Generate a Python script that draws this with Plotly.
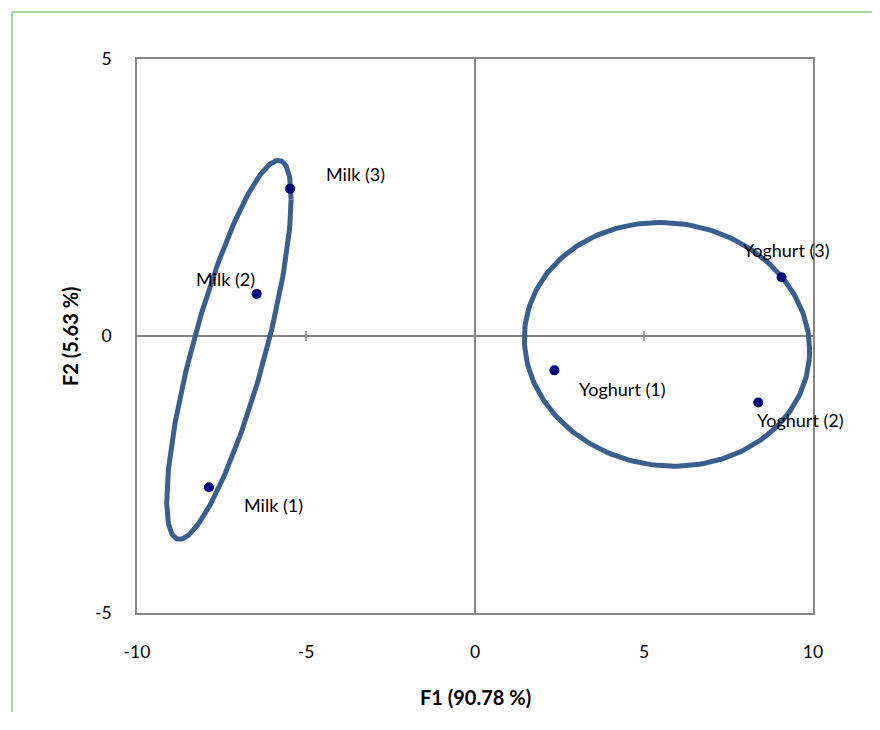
#!/usr/bin/env python3
"""PCA score plot of milk and yoghurt samples with group ellipses."""
import numpy as np
import plotly.graph_objects as go

# sample scores on the first two factors
labels = ["Milk (1)", "Milk (2)", "Milk (3)", "Yoghurt (1)", "Yoghurt (2)", "Yoghurt (3)"]
f1 = [-7.87, -6.46, -5.47, 2.35, 8.38, 9.07]
f2 = [-2.73, 0.76, 2.66, -0.62, -1.20, 1.06]

# group ellipses: centre, half-width (F1), half-height (F2), correlation
ell_cx = [-7.28, 5.68]
ell_cy = [-0.25, -0.15]
ell_hw = [1.84, 4.22]
ell_hh = [3.42, 2.2]
ell_r = [0.796, -0.049]

x_ticks = [-10, -5, 0, 5, 10]
x_tick_text = ["-10", "-5", "0", "5", "10"]
y_ticks = [-5, 0, 5]
y_tick_text = ["-5", "0", "5"]

FONT = "Lato, 'Open Sans', Arial, sans-serif"
GRAY = "#868686"
ELL = "#3A5F8F"
FRAME = "#A3D9A5"

# label offsets in pixels (x, y)
label_shift = {
    "Milk (1)": (65, -18),
    "Milk (2)": (-31, 15),
    "Milk (3)": (65, 15),
    "Yoghurt (1)": (68, -19),
    "Yoghurt (2)": (42, -18),
    "Yoghurt (3)": (5, 27),
}

fig = go.Figure()

t = np.linspace(0, 2 * np.pi, 240)
for cx, cy, hw, hh, r in zip(ell_cx, ell_cy, ell_hw, ell_hh, ell_r):
    ex = cx + hw * np.cos(t)
    ey = cy + hh * (r * np.cos(t) + np.sqrt(1 - r * r) * np.sin(t))
    fig.add_trace(go.Scatter(x=ex, y=ey, mode="lines",
                             line=dict(color=ELL, width=5),
                             hoverinfo="skip", showlegend=False))

fig.add_trace(go.Scatter(x=f1, y=f2, mode="markers", text=labels,
                         marker=dict(color="#000080", size=10),
                         hovertemplate="%{text}<br>F1: %{x}<br>F2: %{y}<extra></extra>",
                         showlegend=False))

for name, x, y in zip(labels, f1, f2):
    dx, dy = label_shift[name]
    fig.add_annotation(x=x, y=y, text=name, showarrow=False, xshift=dx, yshift=dy,
                       font=dict(family=FONT, size=18, color="#000000"))

# small ticks on the horizontal zero axis
for xv in x_ticks:
    if xv in (-10, 0, 10):
        continue
    fig.add_shape(type="line", xref="x", yref="y", x0=xv, x1=xv,
                  ysizemode="pixel", yanchor=0, y0=-5, y1=5,
                  line=dict(color=GRAY, width=1.5))

# outer chart frame (top and left edges visible)
fig.add_shape(type="line", xref="paper", yref="paper",
              x0=-0.1849, x1=1.2, y0=1.0848, y1=1.0848,
              line=dict(color=FRAME, width=2), layer="below")
fig.add_shape(type="line", xref="paper", yref="paper",
              x0=-0.1849, x1=-0.1849, y0=-0.3, y1=1.0848,
              line=dict(color=FRAME, width=2), layer="below")

fig.add_annotation(xref="paper", yref="paper", x=0.5, y=-0.1516, text="<b>F1 (90.78 %)</b>",
                   showarrow=False, yanchor="middle",
                   font=dict(family=FONT, size=20, color="#000000"))
fig.add_annotation(xref="paper", yref="paper", x=-0.0991, y=0.5, text="<b>F2 (5.63 %)</b>",
                   showarrow=False, textangle=-90, xanchor="center", yanchor="middle",
                   font=dict(family=FONT, size=20, color="#000000"))

fig.update_layout(
    width=864,
    height=704,
    margin=dict(l=129, r=59, t=51, b=99),
    plot_bgcolor="#FFFFFF",
    paper_bgcolor="#FFFFFF",
    font=dict(family=FONT, size=17.5, color="#000000"),
    showlegend=False,
)
fig.update_xaxes(range=[-10, 10], tickvals=x_ticks, ticktext=x_tick_text, showgrid=False,
                 zeroline=True, zerolinecolor=GRAY, zerolinewidth=1.5,
                 showline=True, linecolor=GRAY, linewidth=1.5, mirror=True,
                 ticks="outside", ticklen=22, tickcolor="rgba(0,0,0,0)")
fig.update_yaxes(range=[-5, 5], tickvals=y_ticks, ticktext=y_tick_text, showgrid=False,
                 zeroline=True, zerolinecolor=GRAY, zerolinewidth=1.5,
                 showline=True, linecolor=GRAY, linewidth=1.5, mirror=True,
                 ticks="outside", ticklen=20, tickcolor="rgba(0,0,0,0)")

fig.write_html("out.html")
